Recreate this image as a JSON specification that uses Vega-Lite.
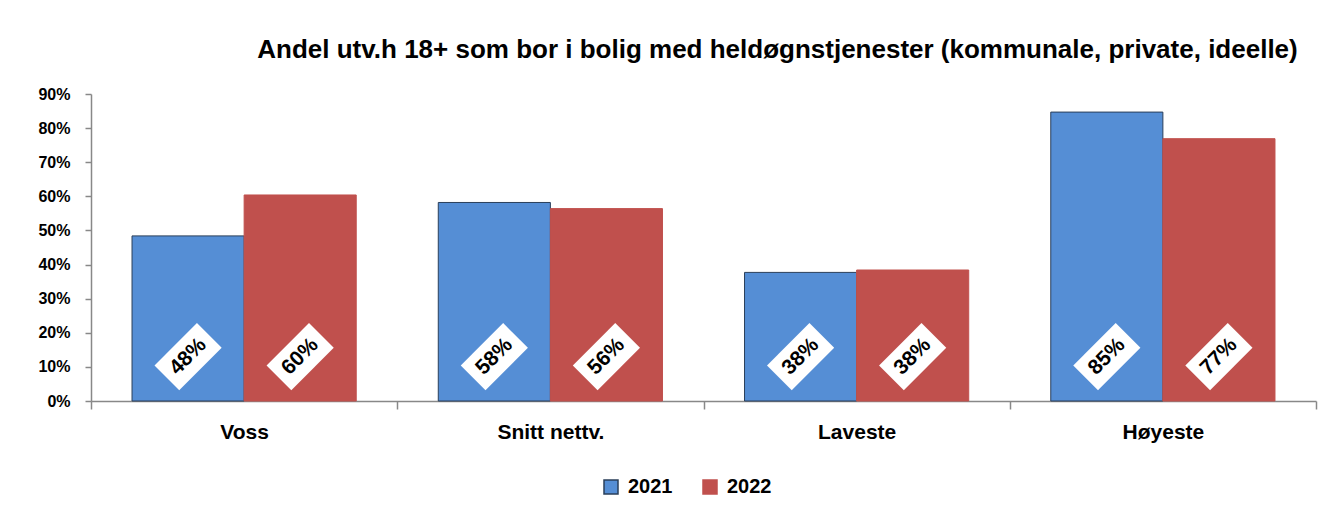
{
  "$schema": "https://vega.github.io/schema/vega-lite/v6.json",
  "autosize": {"type": "none"},
  "padding": {"left": 91, "top": 94, "right": 10, "bottom": 124},
  "width": 1225,
  "height": 307,
  "background": "white",
  "config": {"view": {"stroke": null}, "font": "Liberation Sans"},
  "title": {
    "text": "Andel utv.h 18+ som bor i bolig med heldøgnstjenester (kommunale, private, ideelle)",
    "font": "Liberation Sans",
    "fontSize": 26,
    "fontWeight": "bold",
    "color": "black",
    "anchor": "end",
    "dx": -19,
    "offset": 23
  },
  "data": {
    "values": [
      {"cat": "Voss", "year": "2021", "value": 0.484},
      {"cat": "Voss", "year": "2022", "value": 0.604},
      {"cat": "Snitt nettv.", "year": "2021", "value": 0.582},
      {"cat": "Snitt nettv.", "year": "2022", "value": 0.564},
      {"cat": "Laveste", "year": "2021", "value": 0.377},
      {"cat": "Laveste", "year": "2022", "value": 0.384},
      {"cat": "Høyeste", "year": "2021", "value": 0.847},
      {"cat": "Høyeste", "year": "2022", "value": 0.769}
    ]
  },
  "encoding": {
    "x": {
      "field": "cat",
      "type": "nominal",
      "sort": ["Voss", "Snitt nettv.", "Laveste", "Høyeste"],
      "scale": {"paddingInner": 0, "paddingOuter": 0},
      "axis": {
        "title": null,
        "labelAngle": 0,
        "tickBand": "extent",
        "tickSize": 8,
        "tickColor": "#888888",
        "domainColor": "#888888",
        "domainWidth": 1.5,
        "tickWidth": 1.5,
        "labelFontWeight": "bold",
        "labelFontSize": 21,
        "labelColor": "black",
        "labelPadding": 12
      }
    },
    "xOffset": {"field": "year", "type": "nominal", "scale": {"paddingInner": 0, "paddingOuter": 0.366}}
  },
  "layer": [
    {
      "mark": {"type": "bar", "strokeWidth": 1},
      "encoding": {
        "y": {
          "field": "value",
          "type": "quantitative",
          "scale": {"domain": [0, 0.9]},
          "axis": {
            "title": null,
            "format": ".0%",
            "values": [0, 0.1, 0.2, 0.3, 0.4, 0.5, 0.6, 0.7, 0.8, 0.9],
            "labelOverlap": false,
            "grid": false,
            "tickSize": 6,
            "tickWidth": 1.5,
            "tickColor": "#888888",
            "domainColor": "#888888",
            "domainWidth": 1.5,
            "labelFontWeight": "bold",
            "labelFontSize": 16,
            "labelColor": "black",
            "labelPadding": 15
          }
        },
        "color": {
          "field": "year",
          "type": "nominal",
          "scale": {"domain": ["2021", "2022"], "range": ["#558ED5", "#C0504D"]},
          "legend": {
            "title": null,
            "orient": "none",
            "legendX": 510,
            "legendY": 383,
            "padding": 0,
            "direction": "horizontal",
            "symbolType": "square",
            "symbolSize": 196,
            "symbolOpacity": 1,
            "labelFontWeight": "bold",
            "labelFontSize": 20,
            "labelColor": "black",
            "labelOffset": 7,
            "columnPadding": 27
          }
        },
        "stroke": {
          "field": "year",
          "type": "nominal",
          "scale": {"domain": ["2021", "2022"], "range": ["#2a3f5a", "#C0504D"]},
          "legend": null
        }
      }
    },
    {
      "mark": {
        "type": "point",
        "shape": "M-1,-0.583L1,-0.583L1,0.583L-1,0.583Z",
        "filled": true,
        "fill": "white",
        "opacity": 1,
        "angle": -45,
        "size": 3600
      },
      "encoding": {
        "y": {
          "datum": 0.13,
          "type": "quantitative",
          "axis": {
            "title": null,
            "format": ".0%",
            "values": [0, 0.1, 0.2, 0.3, 0.4, 0.5, 0.6, 0.7, 0.8, 0.9],
            "labelOverlap": false,
            "grid": false,
            "tickSize": 6,
            "tickWidth": 1.5,
            "tickColor": "#888888",
            "domainColor": "#888888",
            "domainWidth": 1.5,
            "labelFontWeight": "bold",
            "labelFontSize": 16,
            "labelColor": "black",
            "labelPadding": 15
          }
        }
      }
    },
    {
      "mark": {
        "type": "text",
        "angle": -45,
        "fontWeight": "bold",
        "fontSize": 21,
        "color": "black",
        "align": "center",
        "baseline": "middle"
      },
      "encoding": {
        "y": {
          "datum": 0.13,
          "type": "quantitative",
          "axis": {
            "title": null,
            "format": ".0%",
            "values": [0, 0.1, 0.2, 0.3, 0.4, 0.5, 0.6, 0.7, 0.8, 0.9],
            "labelOverlap": false,
            "grid": false,
            "tickSize": 6,
            "tickWidth": 1.5,
            "tickColor": "#888888",
            "domainColor": "#888888",
            "domainWidth": 1.5,
            "labelFontWeight": "bold",
            "labelFontSize": 16,
            "labelColor": "black",
            "labelPadding": 15
          }
        },
        "text": {"field": "value", "type": "quantitative", "format": ".0%"}
      }
    }
  ]
}
